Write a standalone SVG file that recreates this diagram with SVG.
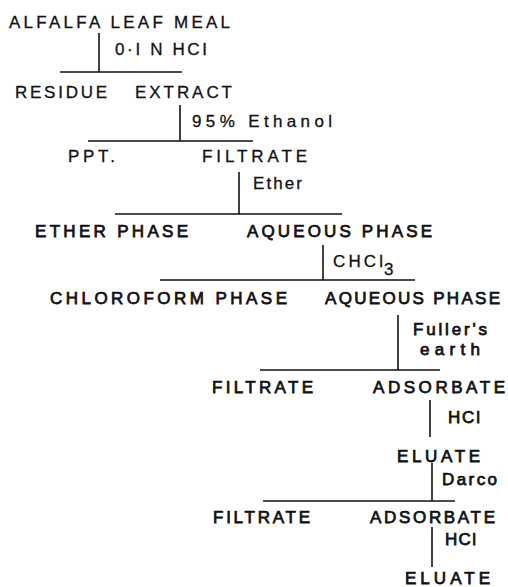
<svg xmlns="http://www.w3.org/2000/svg" width="508" height="587" viewBox="0 0 508 587">
<style>
text{font-family:"Liberation Sans","DejaVu Sans",Arial,sans-serif;font-size:17px;fill:#111;stroke:#111;stroke-width:0.3;}
.b{stroke-width:0.75;}
.c line{stroke:#111;stroke-width:1.6;}
</style>
<rect width="508" height="587" fill="#fff"/>
<g id="connectors" class="c">
<line x1="99" y1="33" x2="99" y2="72"/>
<line x1="60" y1="72" x2="182" y2="72"/>
<text x="115" y="55" textLength="92" lengthAdjust="spacing">0·I N HCI</text>
<line x1="180" y1="105" x2="180" y2="141"/>
<line x1="88" y1="141" x2="253" y2="141"/>
<text x="192" y="127" textLength="140" lengthAdjust="spacing">95% Ethanol</text>
<line x1="239" y1="172" x2="239" y2="214"/>
<line x1="115" y1="214" x2="342" y2="214"/>
<text x="253" y="189" textLength="49" lengthAdjust="spacing">Ether</text>
<line x1="323" y1="245" x2="323" y2="280"/>
<line x1="160" y1="280" x2="415" y2="280"/>
<text x="333" y="267" textLength="50" lengthAdjust="spacing">CHCl</text>
<text x="384" y="275" font-size="18">3</text>
<line x1="398" y1="315" x2="398" y2="370"/>
<line x1="260" y1="370" x2="440" y2="370"/>
<text class="b" x="413" y="335" textLength="74" lengthAdjust="spacing">Fuller's</text>
<text class="b" x="420" y="355" textLength="60" lengthAdjust="spacing">earth</text>
<line x1="430" y1="400" x2="430" y2="437"/>
<text class="b" x="448" y="423" textLength="32" lengthAdjust="spacing">HCl</text>
<line x1="432" y1="463" x2="432" y2="501"/>
<line x1="263" y1="501" x2="455" y2="501"/>
<text class="b" x="442" y="485" textLength="55" lengthAdjust="spacing">Darco</text>
<line x1="432" y1="527" x2="432" y2="567"/>
<text class="b" x="445" y="545" textLength="31" lengthAdjust="spacing">HCl</text>
</g>
<g id="alfalfa-leaf-meal"><text x="9" y="28" textLength="221" lengthAdjust="spacing">ALFALFA LEAF MEAL</text></g>
<g id="residue"><text x="15" y="98" textLength="92" lengthAdjust="spacing">RESIDUE</text></g>
<g id="extract"><text x="135" y="98" textLength="97" lengthAdjust="spacing">EXTRACT</text></g>
<g id="ppt"><text x="68" y="162" textLength="47" lengthAdjust="spacing">PPT.</text></g>
<g id="filtrate1"><text x="202" y="162" textLength="105" lengthAdjust="spacing">FILTRATE</text></g>
<g id="ether-phase"><text class="b" x="35" y="237" textLength="153" lengthAdjust="spacing">ETHER PHASE</text></g>
<g id="aqueous-phase1"><text class="b" x="247" y="237" textLength="185" lengthAdjust="spacing">AQUEOUS PHASE</text></g>
<g id="chloroform-phase"><text class="b" x="50" y="304" textLength="237" lengthAdjust="spacing">CHLOROFORM PHASE</text></g>
<g id="aqueous-phase2"><text class="b" x="325" y="304" textLength="175" lengthAdjust="spacing">AQUEOUS PHASE</text></g>
<g id="filtrate2"><text class="b" x="212" y="393" textLength="101" lengthAdjust="spacing">FILTRATE</text></g>
<g id="adsorbate1"><text class="b" x="373" y="393" textLength="132" lengthAdjust="spacing">ADSORBATE</text></g>
<g id="eluate1"><text class="b" x="397" y="462" textLength="83" lengthAdjust="spacing">ELUATE</text></g>
<g id="filtrate3"><text class="b" x="213" y="523" textLength="97" lengthAdjust="spacing">FILTRATE</text></g>
<g id="adsorbate2"><text class="b" x="370" y="523" textLength="125" lengthAdjust="spacing">ADSORBATE</text></g>
<g id="eluate2"><text class="b" x="405" y="584" textLength="85" lengthAdjust="spacing">ELUATE</text></g>
</svg>
